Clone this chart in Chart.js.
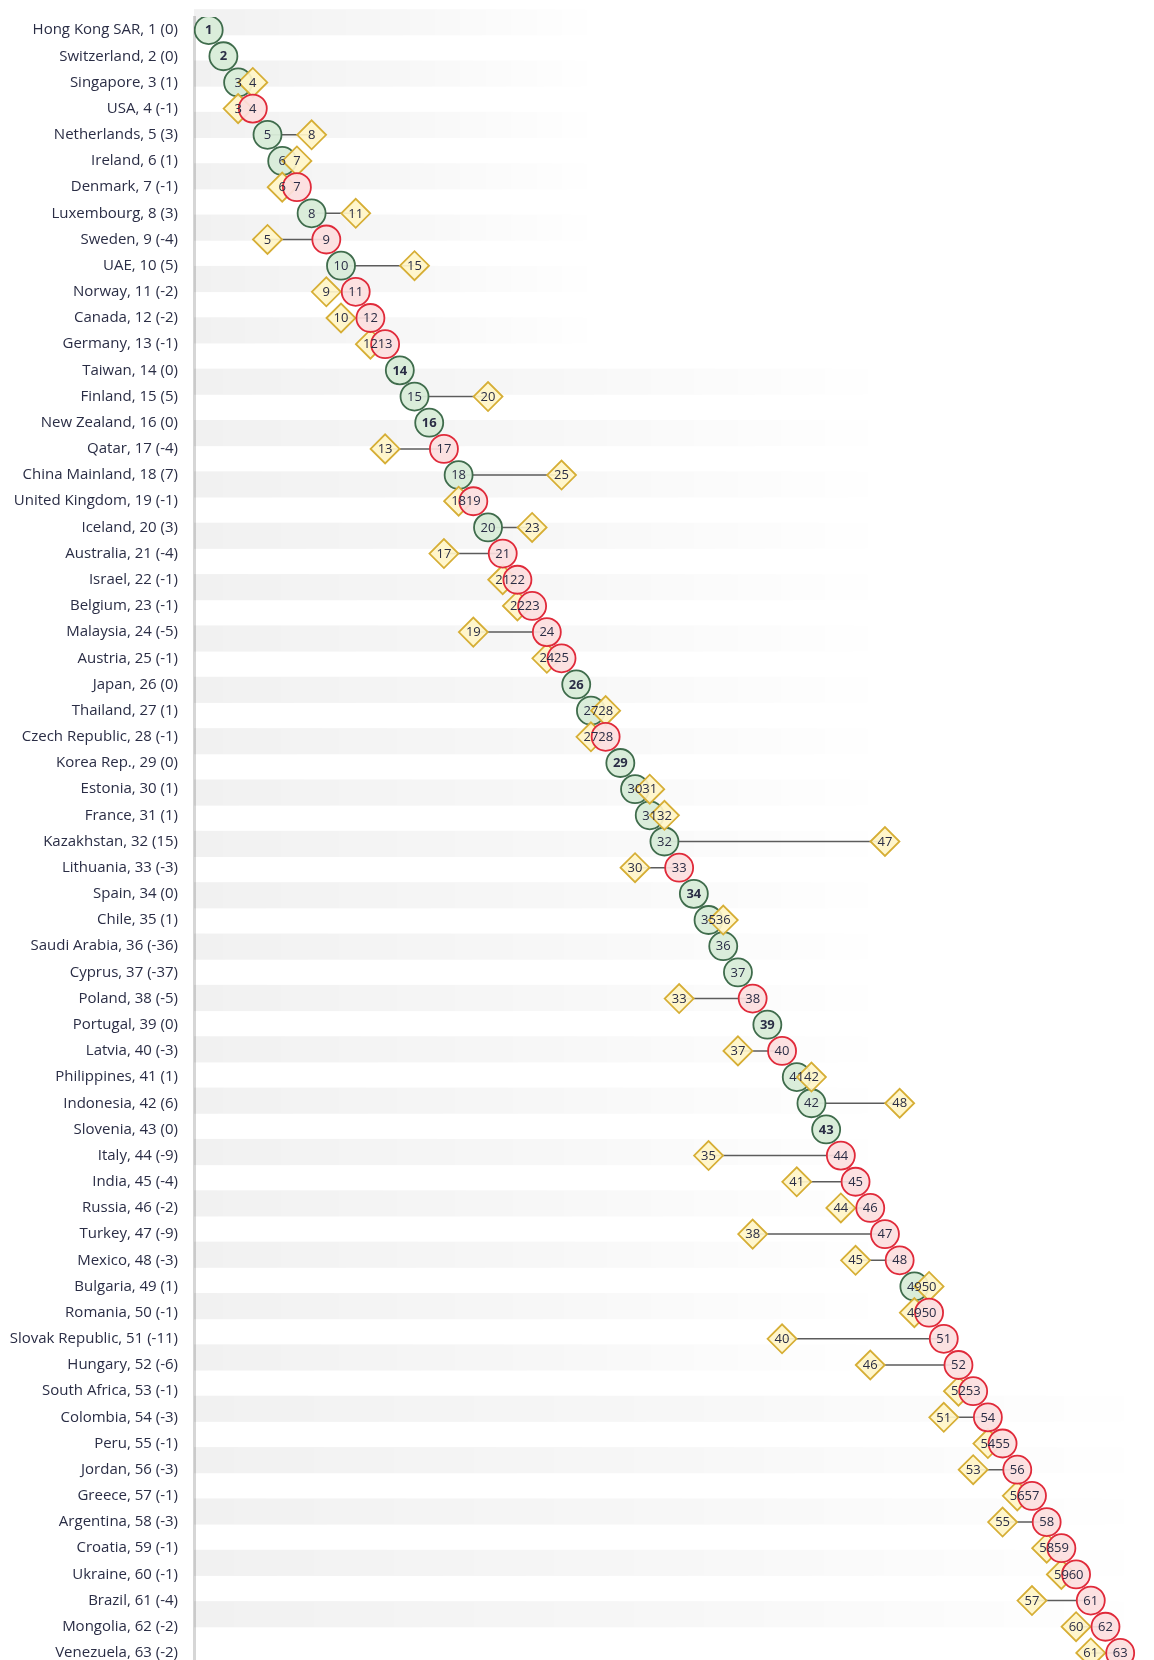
<!DOCTYPE html>
<html>
<head>
<meta charset="utf-8">
<script src="https://cdn.jsdelivr.net/npm/chart.js@4/dist/chart.umd.min.js"></script>
<style>
  html, body { margin: 0; padding: 0; background: #fff; overflow: hidden; }
  canvas { display: block; }
</style>
</head>
<body>
<canvas id="grafico" width="1154" height="1666"></canvas>
<script>
// ---- dados

const paises = [
  'Hong Kong SAR', 'Switzerland', 'Singapore', 'USA', 'Netherlands', 'Ireland', 'Denmark',
  'Luxembourg', 'Sweden', 'UAE', 'Norway', 'Canada', 'Germany', 'Taiwan', 'Finland',
  'New Zealand', 'Qatar', 'China Mainland', 'United Kingdom', 'Iceland', 'Australia',
  'Israel', 'Belgium', 'Malaysia', 'Austria', 'Japan', 'Thailand', 'Czech Republic',
  'Korea Rep.', 'Estonia', 'France', 'Kazakhstan', 'Lithuania', 'Spain', 'Chile',
  'Saudi Arabia', 'Cyprus', 'Poland', 'Portugal', 'Latvia', 'Philippines', 'Indonesia',
  'Slovenia', 'Italy', 'India', 'Russia', 'Turkey', 'Mexico', 'Bulgaria', 'Romania',
  'Slovak Republic', 'Hungary', 'South Africa', 'Colombia', 'Peru', 'Jordan', 'Greece',
  'Argentina', 'Croatia', 'Ukraine', 'Brazil', 'Mongolia', 'Venezuela'
];

// posição atual
const rankAtual = [
  1, 2, 3, 4, 5, 6, 7, 8, 9, 10, 11, 12, 13, 14, 15, 16, 17, 18, 19, 20, 21,
  22, 23, 24, 25, 26, 27, 28, 29, 30, 31, 32, 33, 34, 35, 36, 37, 38, 39, 40, 41, 42,
  43, 44, 45, 46, 47, 48, 49, 50, 51, 52, 53, 54, 55, 56, 57, 58, 59, 60, 61, 62, 63
];

// variação mostrada entre parênteses
const variacao = [
  0, 0, 1, -1, 3, 1, -1, 3, -4, 5, -2, -2, -1, 0, 5, 0, -4, 7, -1, 3, -4,
  -1, -1, -5, -1, 0, 1, -1, 0, 1, 1, 15, -3, 0, 1, -36, -37, -5, 0, -3, 1, 6,
  0, -9, -4, -2, -9, -3, 1, -1, -11, -6, -1, -3, -1, -3, -1, -3, -1, -1, -4, -2, -2
];

// posição anterior (losangos); null = sem posição anterior
const rankAnterior = [
  1, 2, 4, 3, 8, 7, 6, 11, 5, 15, 9, 10, 12, 14, 20, 16, 13, 25, 18, 23, 17,
  21, 22, 19, 24, 26, 28, 27, 29, 31, 32, 47, 30, 34, 36, null, null, 33, 39, 37, 42, 48,
  43, 35, 41, 44, 38, 45, 50, 49, 40, 46, 52, 51, 54, 53, 56, 55, 58, 59, 57, 60, 61
];

// ---- montar datasets

const pontosVerdes = [], pontosVermelhos = [], pontosLosango = [], pontosLinha = [];
rankAtual.forEach((r, i) => {
  const temAnterior = rankAnterior[i] !== null;
  if (variacao[i] >= 0 || !temAnterior) pontosVerdes.push({ x: r, y: r, bold: variacao[i] === 0 });
  else pontosVermelhos.push({ x: r, y: r });
  if (temAnterior && rankAnterior[i] !== r) {
    pontosLosango.push({ x: rankAnterior[i], y: r });
    pontosLinha.push({ x: rankAnterior[i], y: r }, { x: r, y: r }, { x: r, y: null });
  }
});

// faixas de fundo cinza que somem para a direita
const faixasFundo = {
  id: 'faixasFundo',
  beforeDatasetsDraw(chart) {
    const { ctx, chartArea, scales } = chart;
    const y = scales.y;
    const alturaLinha = Math.abs(y.getPixelForValue(2) - y.getPixelForValue(1));
    ctx.save();
    for (let k = 0; k < 32; k++) {
      const v = 0.7 + 1.962 * k;
      const cy = y.getPixelForValue(v);
      const linha = Math.round(v);
      const fimX = linha <= 12 ? 600 : (linha <= 53 ? 890 : 1154);
      const g = ctx.createLinearGradient(chartArea.left, 0, fimX, 0);
      g.addColorStop(0, 'rgba(0,0,0,0.055)');
      g.addColorStop(0.5, 'rgba(0,0,0,0.03)');
      g.addColorStop(1, 'rgba(0,0,0,0)');
      ctx.fillStyle = g;
      ctx.fillRect(chartArea.left, cy - alturaLinha / 2, fimX - chartArea.left, alturaLinha);
    }
    ctx.restore();
  }
};

// números dentro dos círculos e losangos
const rotulosPontos = {
  id: 'rotulosPontos',
  afterDatasetsDraw(chart) {
    const { ctx } = chart;
    ctx.save();
    ctx.textAlign = 'center';
    ctx.textBaseline = 'middle';
    ctx.fillStyle = '#2a2d45';
    [0, 1, 2].forEach(di => {
      const ds = chart.data.datasets[di];
      chart.getDatasetMeta(di).data.forEach((el, j) => {
        const p = ds.data[j];
        ctx.font = (p.bold ? 'bold ' : '') + '13px "Open Sans"';
        ctx.fillText(String(p.x), el.x, el.y + 0.5);
      });
    });
    ctx.restore();
  }
};

const ctx = document.getElementById('grafico').getContext('2d');
const grafico = new Chart(ctx, {
  type: 'scatter',
  data: {
    datasets: [
      {
        label: 'Piorou',
        data: pontosVermelhos,
        order: 1,
        pointStyle: 'circle',
        pointRadius: 14,
        pointHoverRadius: 14,
        pointBackgroundColor: 'rgba(252, 222, 222, 0.92)',
        pointBorderColor: '#e02a3a',
        pointBorderWidth: 1.8
      },
      {
        label: 'Anterior',
        data: pontosLosango,
        order: 2,
        pointStyle: 'rectRot',
        pointRadius: 14.5,
        pointHoverRadius: 14.5,
        pointBackgroundColor: 'rgba(255, 245, 200, 0.92)',
        pointBorderColor: '#d6ae35',
        pointBorderWidth: 1.8
      },
      {
        label: 'Manteve/Melhorou',
        data: pontosVerdes,
        order: 3,
        pointStyle: 'circle',
        pointRadius: 14,
        pointHoverRadius: 14,
        pointBackgroundColor: 'rgba(216, 236, 216, 0.95)',
        pointBorderColor: '#3f6c4c',
        pointBorderWidth: 1.8
      },
      {
        label: 'Ligação',
        data: pontosLinha,
        order: 4,
        showLine: true,
        spanGaps: false,
        borderColor: '#5c5c5c',
        borderWidth: 1.5,
        pointRadius: 0,
        pointHoverRadius: 0
      }
    ]
  },
  options: {
    responsive: false,
    animation: false,
    layout: { autoPadding: false, padding: { top: 17, right: 0, bottom: 0, left: 0 } },
    plugins: {
      legend: { display: false },
      tooltip: { enabled: false }
    },
    scales: {
      x: {
        type: 'linear',
        display: false,
        min: 0,
        max: 65.3
      },
      y: {
        type: 'linear',
        reverse: true,
        min: 0.5,
        max: 63.5,
        afterFit: s => { s.width = 194; s.paddingTop = 0; s.paddingBottom = 0; },
        afterBuildTicks: s => { s.ticks = rankAtual.map(v => ({ value: v })); },
        grid: { display: false, drawTicks: false },
        border: { display: true, color: '#d6d6d6', width: 3 },
        ticks: {
          autoSkip: false,
          padding: 16,
          color: '#2a2d45',
          font: { family: 'Open Sans', size: 15 },
          callback: v => {
            const i = rankAtual.indexOf(v);
            return i < 0 ? '' : paises[i] + ', ' + v + ' (' + variacao[i] + ')';
          }
        }
      }
    }
  },
  plugins: [faixasFundo, rotulosPontos]
});
</script>
</body>
</html>
